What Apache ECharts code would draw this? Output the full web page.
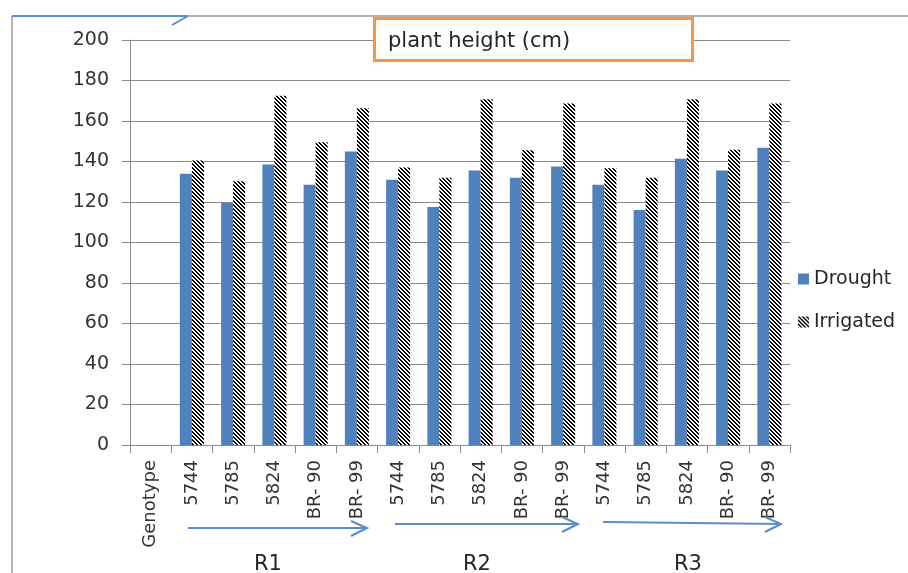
<!DOCTYPE html>
<html>
<head>
<meta charset="utf-8">
<script src="https://cdn.jsdelivr.net/npm/echarts@6/dist/echarts.min.js"></script>
<style>
  html, body { margin: 0; padding: 0; background: #ffffff; }
  #chart { width: 908px; height: 573px; }
</style>
</head>
<body>
<div id="chart"></div>
<script>
// ---- Data ----
var categories = ['Genotype', '5744', '5785', '5824', 'BR- 90', 'BR- 99',
                  '5744', '5785', '5824', 'BR- 90', 'BR- 99',
                  '5744', '5785', '5824', 'BR- 90', 'BR- 99'];
var drought   = [null, 134, 119.5, 138.5, 128.5, 145, 131, 117.5, 135.6, 132, 137.5, 128.5, 116, 141.3, 135.6, 146.8];
var irrigated = [null, 140.5, 130.3, 172.5, 149.5, 166.3, 137, 132, 170.7, 145.5, 168.7, 136.7, 132, 170.7, 145.8, 168.7];
var seriesNames = ['Drought', 'Irrigated'];
var groupLabels = ['R1', 'R2', 'R3'];
var titleText = 'plant height (cm)';

// ---- Hatch pattern ----
function makeHatch() {
  var c = document.createElement('canvas');
  c.width = 4; c.height = 4;
  var ctx = c.getContext('2d');
  ctx.fillStyle = '#ffffff';
  ctx.fillRect(0, 0, 4, 4);
  ctx.fillStyle = '#000000';
  for (var x = 0; x < 4; x++) {
    for (var y = 0; y < 4; y++) {
      if (((x - y + 8) % 4) < 2) ctx.fillRect(x, y, 1, 1);
    }
  }
  return c;
}
var hatch = { image: makeHatch(), repeat: 'repeat' };

var FONT = 'DejaVu Sans';
var gridColor = '#8a8a8a';
var arrowColor = '#5a8ccc';

var chart = echarts.init(document.getElementById('chart'), null, { renderer: 'canvas' });

function arrow(x1, y1, x2, y2) {
  return [
    { type: 'line', shape: { x1: x1, y1: y1, x2: x2, y2: y2 }, style: { stroke: arrowColor, lineWidth: 2 }, z: 50 },
    { type: 'polyline', shape: { points: [[x2 - 16, y2 - 7], [x2, y2], [x2 - 16, y2 + 8]] }, style: { stroke: arrowColor, lineWidth: 2, fill: null }, z: 50 }
  ];
}

var graphics = [
  // outer frame
  { type: 'line', shape: { x1: 12, y1: 16, x2: 908, y2: 16 }, style: { stroke: '#9a9a9a', lineWidth: 1.5 }, z: 40 },
  { type: 'line', shape: { x1: 12, y1: 16, x2: 12, y2: 573 }, style: { stroke: '#9a9a9a', lineWidth: 1.5 }, z: 40 },
  { type: 'line', shape: { x1: 12, y1: 16, x2: 187, y2: 16 }, style: { stroke: arrowColor, lineWidth: 2 }, z: 41 },
  { type: 'line', shape: { x1: 172, y1: 25, x2: 188, y2: 16 }, style: { stroke: arrowColor, lineWidth: 2 }, z: 41 },
  // title box
  { type: 'rect', shape: { x: 374.5, y: 18.5, width: 318, height: 42 }, style: { fill: '#ffffff', stroke: '#f79646', lineWidth: 3 }, z: 60 },
  { type: 'text', left: 388, top: 31, style: { text: titleText, font: '21px "' + FONT + '"', fill: '#262626' }, z: 61 },
  // group labels
  { type: 'text', x: 268, y: 554, style: { text: groupLabels[0], font: '21px "' + FONT + '"', fill: '#262626', align: 'center', verticalAlign: 'top' }, z: 50 },
  { type: 'text', x: 477, y: 554, style: { text: groupLabels[1], font: '21px "' + FONT + '"', fill: '#262626', align: 'center', verticalAlign: 'top' }, z: 50 },
  { type: 'text', x: 688, y: 554, style: { text: groupLabels[2], font: '21px "' + FONT + '"', fill: '#262626', align: 'center', verticalAlign: 'top' }, z: 50 }
];
graphics = graphics.concat(arrow(188, 528, 367, 528), arrow(395, 524, 578, 524), arrow(603, 522, 781, 524));

var option = {
  backgroundColor: '#ffffff',
  animation: false,
  grid: { left: 130, right: 118, top: 40, bottom: 128, containLabel: false },
  legend: {
    orient: 'vertical',
    left: 793,
    top: 264,
    itemWidth: 11,
    itemHeight: 11,
    itemGap: 23,
    icon: 'rect',
    data: seriesNames,
    textStyle: { fontFamily: FONT, fontSize: 19, color: '#262626', lineHeight: 20 }
  },
  xAxis: {
    type: 'category',
    data: categories,
    axisLine: { show: true, lineStyle: { color: gridColor, width: 1 } },
    axisTick: { show: true, length: 8, alignWithLabel: false, lineStyle: { color: gridColor } },
    axisLabel: { rotate: 90, interval: 0, margin: 15, fontFamily: FONT, fontSize: 18, color: '#333333' },
    splitLine: { show: false }
  },
  yAxis: {
    type: 'value',
    min: 0,
    max: 200,
    interval: 20,
    axisLine: { show: true, lineStyle: { color: gridColor, width: 1 } },
    axisTick: { show: true, length: 8, lineStyle: { color: gridColor } },
    axisLabel: { margin: 21, fontFamily: FONT, fontSize: 19, color: '#333333' },
    splitLine: { show: true, lineStyle: { color: gridColor, width: 1 } }
  },
  series: [
    {
      name: seriesNames[0],
      type: 'bar',
      data: drought,
      barWidth: 12,
      barGap: '0%',
      itemStyle: { color: '#4f81bd' }
    },
    {
      name: seriesNames[1],
      type: 'bar',
      data: irrigated,
      barWidth: 12,
      barGap: '0%',
      itemStyle: { color: hatch }
    }
  ],
  graphic: graphics
};
chart.setOption(option);
</script>
</body>
</html>
